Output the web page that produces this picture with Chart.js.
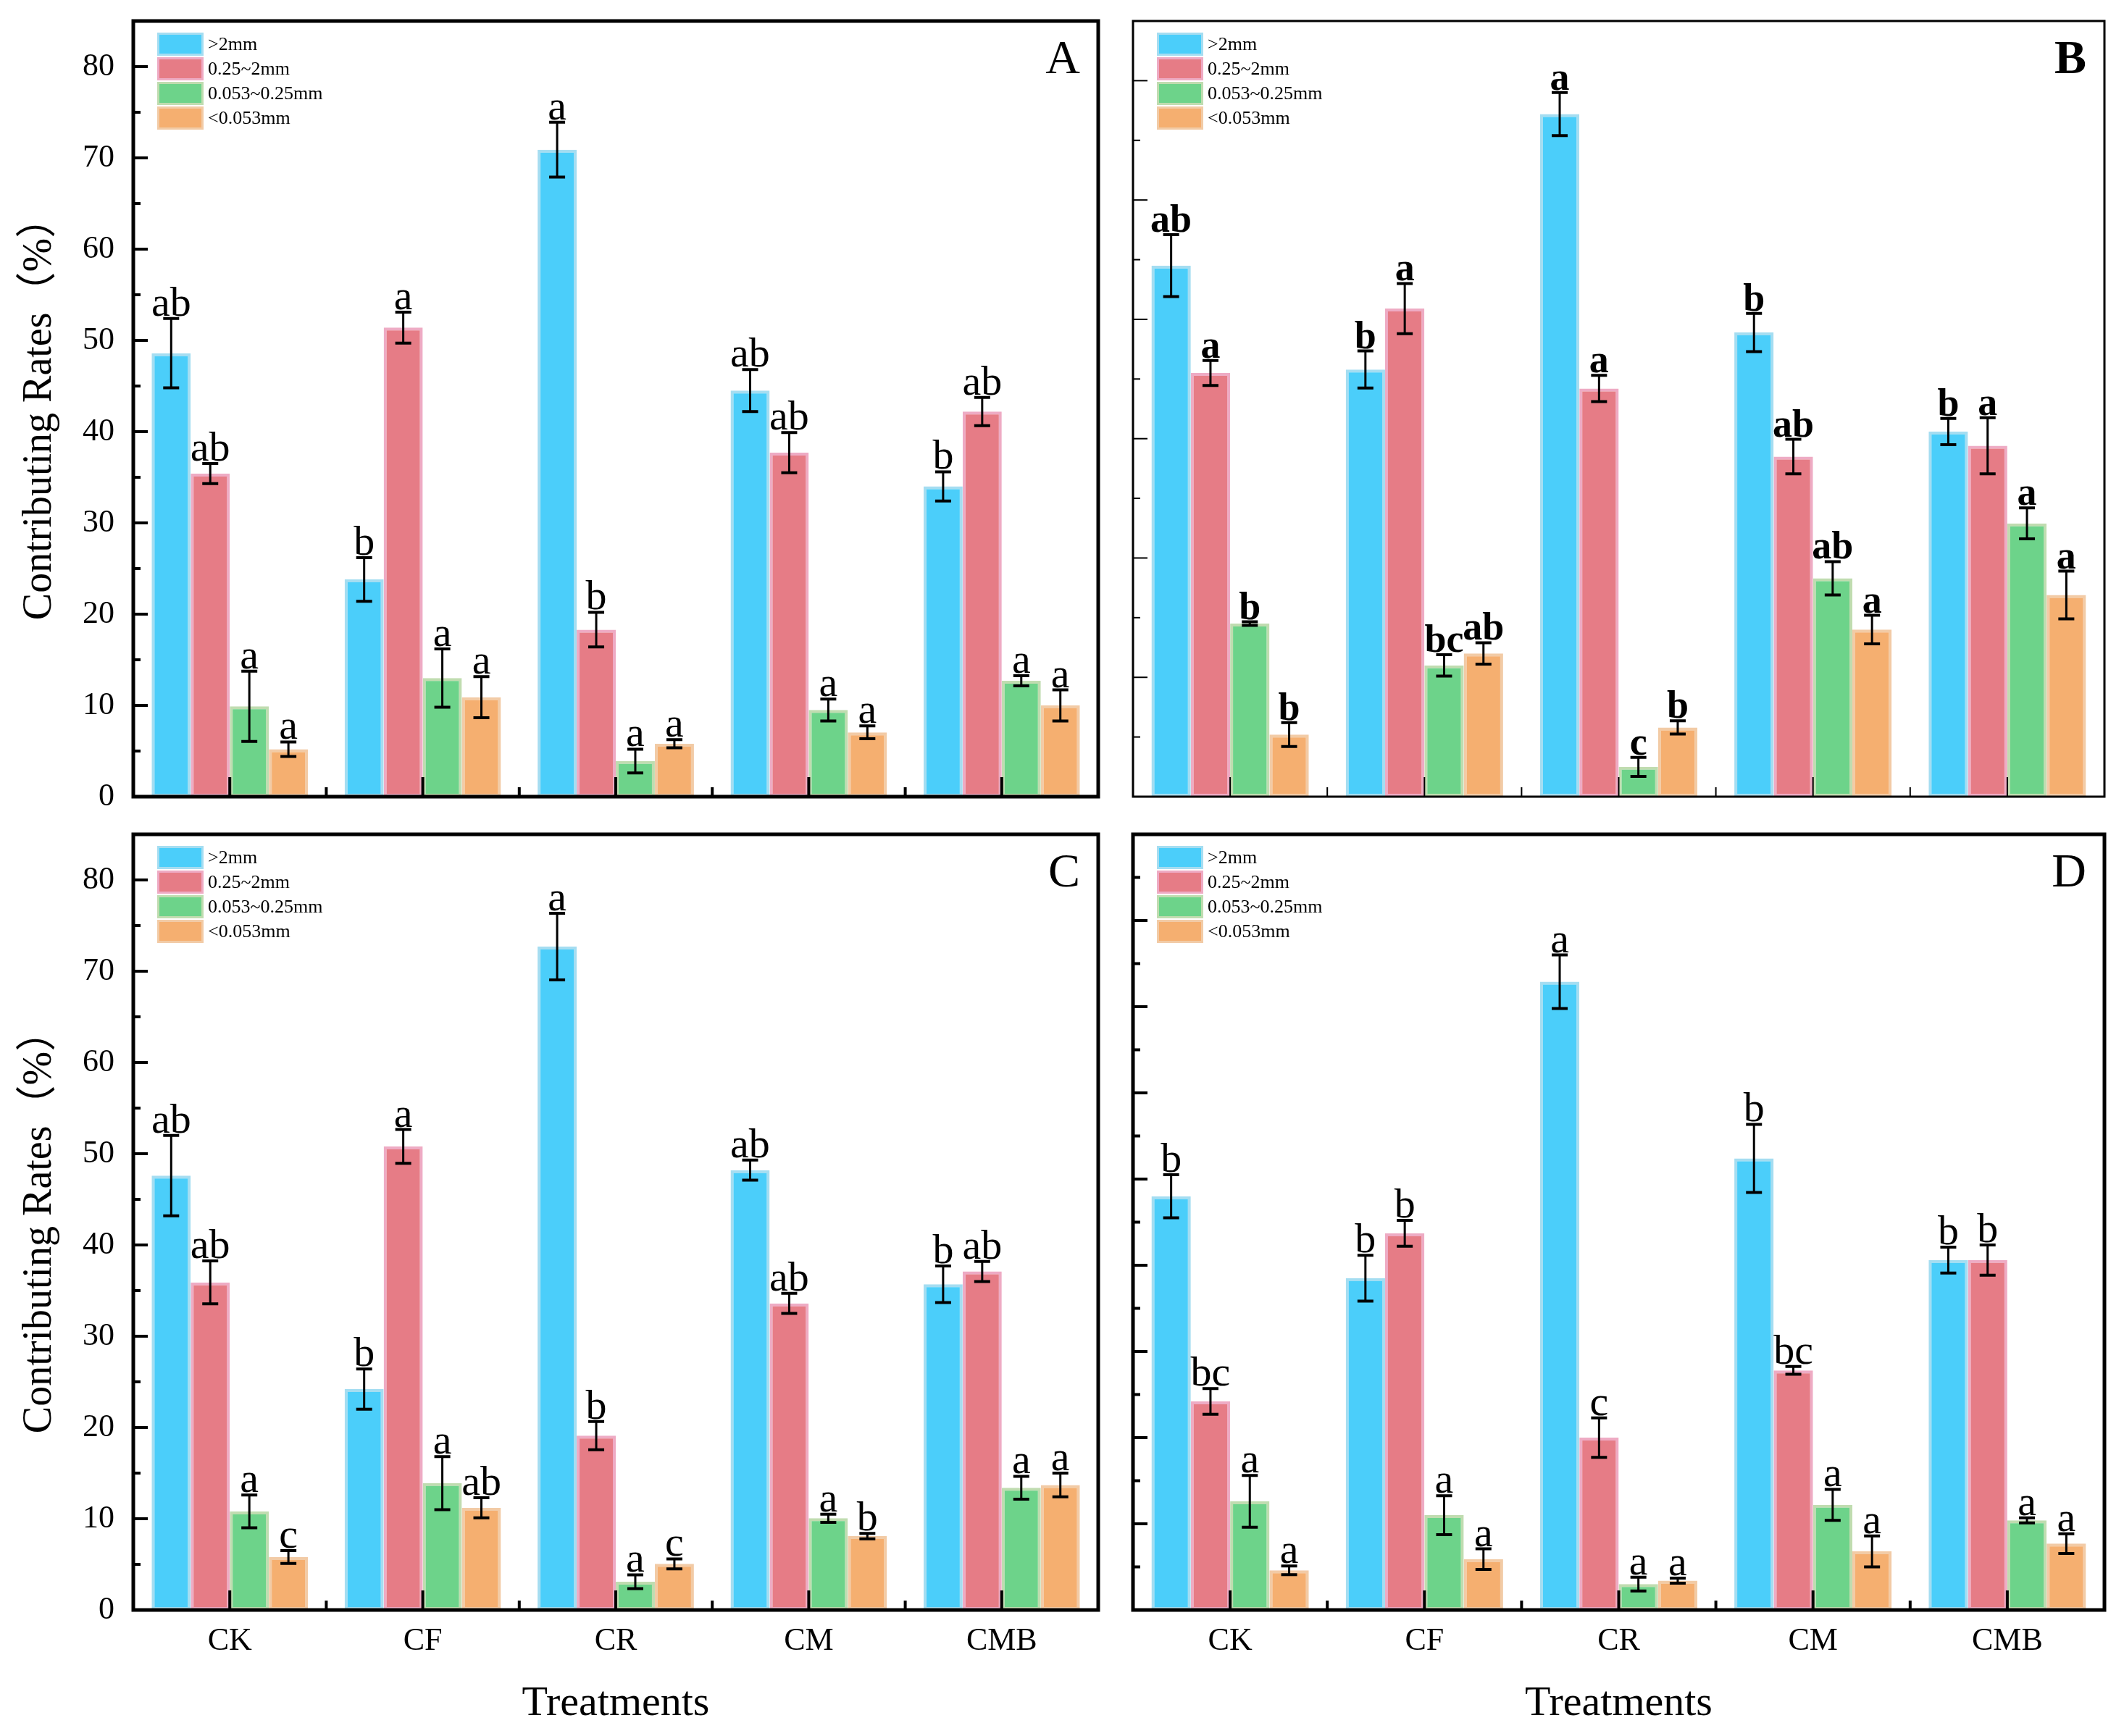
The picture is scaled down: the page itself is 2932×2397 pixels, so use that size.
<!DOCTYPE html>
<html>
<head>
<meta charset="utf-8">
<script src="https://cdn.jsdelivr.net/npm/chart.js@4.4.1/dist/chart.umd.min.js"></script>
<style>
html, body { margin: 0; padding: 0; background: #fff; }
#page { position: relative; width: 2932px; height: 2397px; background: #fff; }
canvas { position: absolute; }
</style>
</head>
<body>
<div id="page">
  <canvas id="chartA" width="1540" height="1128" style="left:0px;top:0px"></canvas>
  <canvas id="chartB" width="1392" height="1128" style="left:1540px;top:0px"></canvas>
  <canvas id="chartC" width="1540" height="1269" style="left:0px;top:1128px"></canvas>
  <canvas id="chartD" width="1392" height="1269" style="left:1540px;top:1128px"></canvas>
</div>
<script>
const categories = ["CK", "CF", "CR", "CM", "CMB"];
const sizeClasses = [">2mm", "0.25~2mm", "0.053~0.25mm", "<0.053mm"];
const fillColors = ["#4bcefa", "#e67c86", "#6dd38a", "#f5af70"];
const edgeColors = ["#a5ddf1", "#eeabc4", "#c0dcb0", "#f2cba6"];

// rows follow sizeClasses, columns follow categories
const valuesA = [
  [48.6, 23.8, 70.9, 44.5, 34.0],
  [35.4, 51.4, 18.3, 37.7, 42.2],
  [9.9, 13.0, 3.9, 9.5, 12.7],
  [5.2, 10.9, 5.8, 7.05, 10.0]
];
const errorsA = [
  [3.8, 2.4, 3.0, 2.3, 1.6],
  [1.1, 1.7, 1.9, 2.2, 1.55],
  [3.85, 3.2, 1.3, 1.2, 0.55],
  [0.8, 2.25, 0.45, 0.7, 1.7]
];
const lettersA = [
  ["ab", "b", "a", "ab", "b"],
  ["ab", "a", "b", "ab", "ab"],
  ["a", "a", "a", "a", "a"],
  ["a", "a", "a", "a", "a"]
];

const valuesB = [
  [44.5, 35.8, 57.2, 38.9, 30.6],
  [35.5, 40.9, 34.2, 28.5, 29.4],
  [14.5, 11.0, 2.5, 18.3, 22.9],
  [5.2, 12.0, 5.8, 14.0, 16.9]
];
const errorsB = [
  [2.6, 1.55, 1.8, 1.6, 1.1],
  [1.05, 2.1, 1.1, 1.45, 2.35],
  [0.15, 0.9, 0.8, 1.4, 1.3],
  [1.0, 0.9, 0.55, 1.2, 2.0]
];
const lettersB = [
  ["ab", "b", "a", "b", "b"],
  ["a", "a", "a", "ab", "a"],
  ["b", "bc", "c", "ab", "a"],
  ["b", "ab", "b", "a", "a"]
];

const valuesC = [
  [47.6, 24.2, 72.7, 48.2, 35.7],
  [35.9, 50.8, 19.1, 33.6, 37.1],
  [10.8, 13.9, 3.1, 10.05, 13.4],
  [5.8, 11.2, 5.05, 8.1, 13.7]
];
const errorsC = [
  [4.4, 2.2, 3.65, 1.1, 2.0],
  [2.35, 1.85, 1.55, 1.1, 1.1],
  [1.8, 2.9, 0.75, 0.45, 1.25],
  [0.7, 1.1, 0.55, 0.3, 1.3]
];
const lettersC = [
  ["ab", "b", "a", "ab", "b"],
  ["ab", "a", "b", "ab", "ab"],
  ["a", "a", "a", "a", "a"],
  ["c", "ab", "c", "b", "a"]
];

const valuesD = [
  [48.0, 38.5, 72.9, 52.4, 40.6],
  [24.2, 43.7, 20.0, 27.8, 40.6],
  [12.6, 11.0, 3.0, 12.2, 10.4],
  [4.6, 5.9, 3.4, 6.8, 7.7]
];
const errorsD = [
  [2.5, 2.65, 3.1, 3.95, 1.5],
  [1.5, 1.5, 2.3, 0.45, 1.75],
  [3.0, 2.25, 0.8, 1.8, 0.3],
  [0.5, 1.2, 0.3, 1.8, 1.15]
];
const lettersD = [
  ["b", "b", "a", "b", "b"],
  ["bc", "b", "c", "bc", "b"],
  ["a", "a", "a", "a", "a"],
  ["a", "a", "a", "a", "a"]
];

const serif = "'Liberation Serif', 'Times New Roman', 'Noto Sans CJK SC', serif";

// error bars, significance letters, inward ticks, frame, legend and panel letter
const decor = {
  id: "decor",
  afterDatasetsDraw(chart) {
    const ctx = chart.ctx;
    const y = chart.scales.y;
    ctx.save();
    ctx.strokeStyle = "#000";
    chart.data.datasets.forEach((ds, di) => {
      const meta = chart.getDatasetMeta(di);
      meta.data.forEach((bar, i) => {
        const top = y.getPixelForValue(ds.data[i] + ds.errors[i]);
        const bot = y.getPixelForValue(ds.data[i] - ds.errors[i]);
        ctx.lineWidth = 3;
        ctx.beginPath();
        ctx.moveTo(bar.x, top);
        ctx.lineTo(bar.x, bot);
        ctx.stroke();
        ctx.lineWidth = 4;
        ctx.beginPath();
        ctx.moveTo(bar.x - 11, top);
        ctx.lineTo(bar.x + 11, top);
        ctx.moveTo(bar.x - 11, bot);
        ctx.lineTo(bar.x + 11, bot);
        ctx.stroke();
      });
    });
    ctx.restore();
  },
  afterDraw(chart) {
    const ctx = chart.ctx;
    const opt = chart.options.plugins.decor;
    const area = chart.chartArea;
    const x = chart.scales.x;
    const y = chart.scales.y;
    ctx.save();
    ctx.fillStyle = "#000";
    ctx.strokeStyle = "#000";

    // letters above error bars
    ctx.font = (opt.bold ? "bold " : "") + opt.letterSize + "px " + serif;
    ctx.textAlign = "center";
    ctx.textBaseline = "alphabetic";
    chart.data.datasets.forEach((ds, di) => {
      const meta = chart.getDatasetMeta(di);
      meta.data.forEach((bar, i) => {
        const top = y.getPixelForValue(ds.data[i] + ds.errors[i]);
        ctx.fillText(ds.letters[i], bar.x, top - 4);
      });
    });

    // inward y ticks
    ctx.lineWidth = opt.tickWidth;
    y.ticks.forEach(t => {
      if (t.value <= 0 || t.value >= y.max) return;
      const py = y.getPixelForValue(t.value);
      const len = t.value % 10 === 0 ? 20 : 10;
      ctx.beginPath();
      ctx.moveTo(area.left, py);
      ctx.lineTo(area.left + len, py);
      ctx.stroke();
    });

    // inward x ticks: long at category centres, short at boundaries
    const half = (x.getPixelForValue(1) - x.getPixelForValue(0)) / 2;
    categories.forEach((c, i) => {
      const px = x.getPixelForValue(i);
      ctx.beginPath();
      ctx.moveTo(px, area.bottom);
      ctx.lineTo(px, area.bottom - 27);
      if (i > 0) {
        ctx.moveTo(px - half, area.bottom);
        ctx.lineTo(px - half, area.bottom - 13);
      }
      ctx.stroke();
    });

    // frame
    ctx.lineWidth = opt.frameWidth;
    ctx.strokeRect(area.left, area.top, area.right - area.left, area.bottom - area.top);

    // legend in the top left corner
    const lx = area.left + 33;
    let ly = area.top + 16;
    ctx.font = "26px " + serif;
    ctx.textAlign = "left";
    ctx.textBaseline = "middle";
    chart.data.datasets.forEach(ds => {
      ctx.fillStyle = ds.borderColor;
      ctx.fillRect(lx, ly, 64, 32);
      ctx.fillStyle = ds.backgroundColor;
      ctx.fillRect(lx + 3, ly + 3, 58, 26);
      ctx.fillStyle = "#000";
      ctx.fillText(ds.label, lx + 70, ly + 17);
      ly += 34;
    });

    // panel letter
    ctx.font = (opt.bold ? "bold " : "") + "66px " + serif;
    ctx.textAlign = "right";
    ctx.textBaseline = "alphabetic";
    ctx.fillText(opt.panel, area.right - 25, area.top + 72);
    ctx.restore();
  }
};

function makePanel(id, panel, values, errors, letters, cfg) {
  const datasets = sizeClasses.map((name, s) => ({
    label: name,
    data: values[s],
    errors: errors[s],
    letters: letters[s],
    backgroundColor: fillColors[s],
    borderColor: edgeColors[s],
    borderWidth: 4,
    borderSkipped: false,
    categoryPercentage: 0.81,
    barPercentage: 1.0
  }));

  new Chart(document.getElementById(id), {
    type: "bar",
    data: { labels: categories, datasets: datasets },
    plugins: [decor],
    options: {
      responsive: false,
      animation: false,
      devicePixelRatio: 1,
      layout: { padding: { top: cfg.padTop, right: cfg.padRight, left: 0, bottom: 0 } },
      plugins: {
        legend: { display: false },
        tooltip: { enabled: false },
        decor: {
          panel: panel,
          bold: cfg.bold,
          letterSize: cfg.bold ? 54 : 58,
          frameWidth: cfg.frameWidth,
          tickWidth: cfg.tickWidth
        }
      },
      scales: {
        x: {
          grid: { display: false, drawTicks: false },
          border: { display: false },
          ticks: {
            display: cfg.xLabels,
            padding: 17,
            color: "#000",
            font: { family: serif, size: 44 }
          },
          title: {
            display: cfg.xLabels,
            text: "Treatments",
            color: "#000",
            font: { family: serif, size: 58 },
            padding: { top: 0, bottom: 9 }
          },
          afterFit(scale) {
            scale.height = cfg.xHeight;
            scale.paddingLeft = 0;
            scale.paddingRight = 0;
          }
        },
        y: {
          min: 0,
          max: cfg.yMax,
          grid: { display: false, drawTicks: false },
          border: { display: false },
          ticks: {
            display: cfg.yLabels,
            stepSize: 5,
            includeBounds: false,
            padding: 26,
            color: "#000",
            font: { family: serif, size: 44 },
            callback: v => (v % 10 === 0 ? v : "")
          },
          title: {
            display: cfg.yLabels,
            text: "Contributing Rates（%）",
            color: "#000",
            font: { family: serif, size: 56 },
            padding: { top: 22, bottom: 0 }
          },
          afterFit(scale) {
            scale.width = cfg.yWidth;
            scale.paddingTop = 0;
            scale.paddingBottom = 0;
          }
        }
      }
    }
  });
}

makePanel("chartA", "A", valuesA, errorsA, lettersA,
  { yMax: 85, yLabels: true, xLabels: false, bold: false, frameWidth: 5, tickWidth: 4,
    padTop: 29, padRight: 24, yWidth: 184, xHeight: 28 });
makePanel("chartB", "B", valuesB, errorsB, lettersB,
  { yMax: 65, yLabels: false, xLabels: false, bold: true, frameWidth: 3, tickWidth: 2,
    padTop: 29, padRight: 27, yWidth: 24, xHeight: 28 });
makePanel("chartC", "C", valuesC, errorsC, lettersC,
  { yMax: 85, yLabels: true, xLabels: true, bold: false, frameWidth: 5, tickWidth: 4,
    padTop: 24, padRight: 24, yWidth: 184, xHeight: 174 });
makePanel("chartD", "D", valuesD, errorsD, lettersD,
  { yMax: 90, yLabels: false, xLabels: true, bold: false, frameWidth: 5, tickWidth: 4,
    padTop: 24, padRight: 27, yWidth: 24, xHeight: 174 });
</script>
</body>
</html>
